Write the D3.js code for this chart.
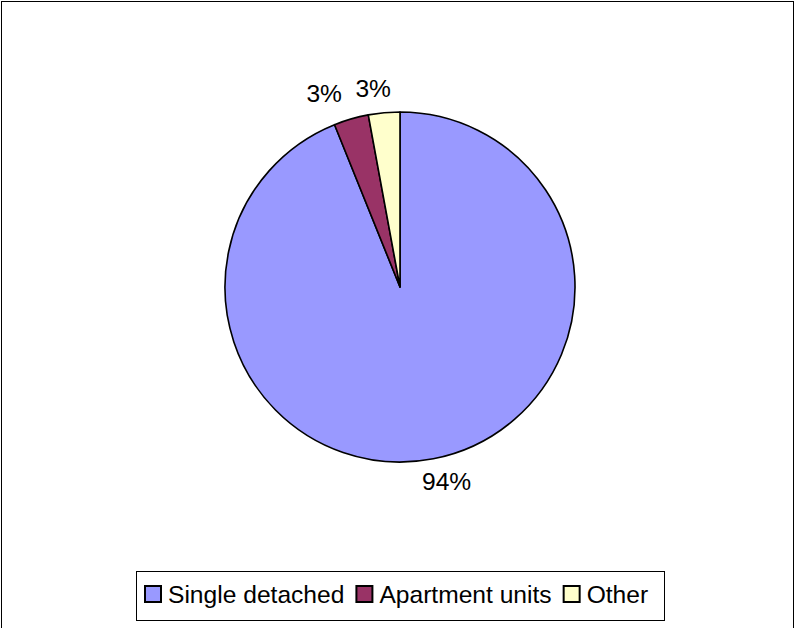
<!DOCTYPE html>
<html><head><meta charset="utf-8">
<script src="https://cdn.jsdelivr.net/npm/d3@7"></script>
<style>html,body{margin:0;padding:0;background:#fff;} svg{display:block;}</style>
</head><body>
<svg id="c" width="797" height="628"></svg>
<script>
const categories = ["Single detached", "Apartment units", "Other"];
const values = [93.9, 3.2, 2.9];
const labels = ["94%", "3%", "3%"];
const colors = ["#9999FF", "#993366", "#FFFFCC"];

const svg = d3.select("#c");
const font = "Liberation Sans, Arial, sans-serif";
const fs = 24.6;
svg.append("rect").attr("x",1.5).attr("y",1.5).attr("width",792).attr("height",640)
  .attr("fill","#fff").attr("stroke","#000").attr("stroke-width",1);

const cx = 400, cy = 287, r = 175;
const g = svg.append("g").attr("transform",`translate(${cx},${cy})`);
const pie = d3.pie().sort(null).value(d=>d.v);
const data = pie(categories.map((c,i)=>({c, v:values[i], l:labels[i], col:colors[i]})));
const arc = d3.arc().innerRadius(0).outerRadius(r);
g.selectAll("path").data(data).join("path")
  .attr("d",arc).attr("fill",d=>d.data.col)
  .attr("stroke","#000").attr("stroke-width",1.6).attr("stroke-linejoin","round");

// labels
const R = 200, shift = -2.5*Math.PI/180;
const lab = data.map(d=>{
  const a = (d.startAngle+d.endAngle)/2 + shift;
  return {t:d.data.l, x:Math.sin(a)*R, y:-Math.cos(a)*R};
});
const small = lab.filter(l=>l.y<-150).sort((a,b)=>b.x-a.x);
for(let i=1;i<small.length;i++){
  if(small[i-1].x - small[i].x < 49){ small[i].x = small[i-1].x - 49; small[i].y -= 4; }
}
g.selectAll("text.lbl").data(lab).join("text").attr("class","lbl")
  .attr("x",d=>d.x).attr("y",d=>d.y).attr("dy","0.35em").attr("text-anchor","middle")
  .attr("font-family",font).attr("font-size",fs).attr("fill","#000").text(d=>d.t);

// legend
const lg = svg.append("g");
lg.append("rect").attr("x",136.5).attr("y",571.5).attr("width",528).attr("height",49)
  .attr("fill","#fff").attr("stroke","#000").attr("stroke-width",1);
let x = 145;
categories.forEach((c,i)=>{
  lg.append("rect").attr("x",x).attr("y",586).attr("width",16).attr("height",16)
    .attr("fill",colors[i]).attr("stroke","#000").attr("stroke-width",2);
  const t = lg.append("text").attr("x",x+23).attr("y",603)
    .attr("font-family",font).attr("font-size",fs).attr("fill","#000").text(c);
  x += 23 + t.node().getComputedTextLength() + 12;
});
</script>
</body></html>
